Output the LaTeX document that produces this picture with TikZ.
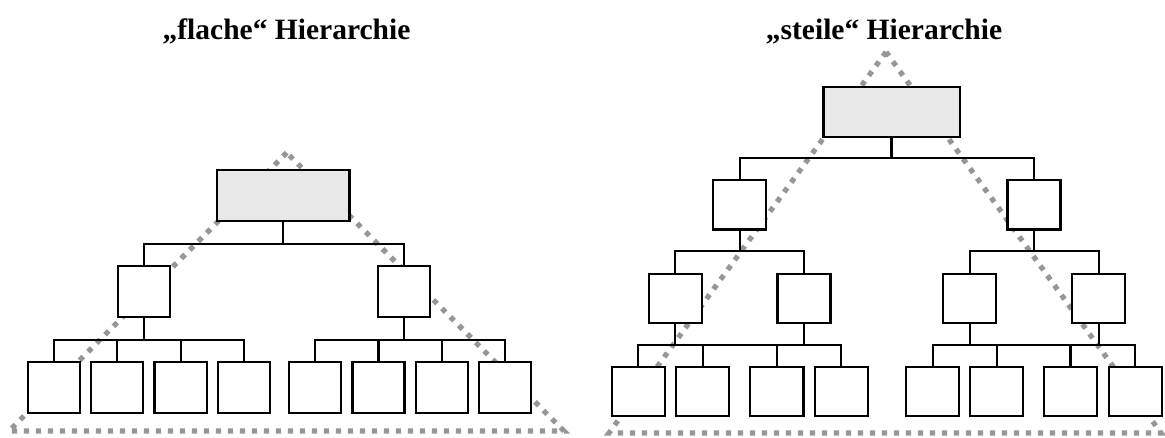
\documentclass[tikz,border=0pt]{standalone}
\usepackage{fontspec}
\setmainfont{Liberation Serif}
\usepackage{xcolor}
\usepackage{tikz}
\usetikzlibrary{
    positioning,
    calc
}

\definecolor{headfill}{RGB}{232,232,232}
\definecolor{hullgray}{RGB}{150,150,150}

\begin{document}
\begin{tikzpicture}[
        x=1pt, y=-1pt,
        subbox/.style={
            rectangle,
            draw,
            fill=white,
            line width=2.2pt,
            inner sep=0pt,
            minimum width=52.1pt,
            minimum height=51.1pt
        },
        topbox/.style={
            subbox,
            fill=headfill,
            minimum width=132.5pt,
            minimum height=51.1pt
        },
        cell/.style={
            subbox,
            minimum width=53.1pt,
            minimum height=49.4pt
        },
        link/.style={
            line width=2.2pt
        },
        hull/.style={
            draw=hullgray,
            line width=5.2pt,
            dash pattern=on 5.2pt off 6.8pt
        },
        title/.style={
            anchor=base,
            font=\bfseries\fontsize{29.5}{31}\selectfont
        }
    ]

    \useasboundingbox (0,0) rectangle (1165,437);

    % dotted outlines behind the trees
    \draw[hull] (286.7,152.7) -- (9,431) -- (564,431) -- cycle;
    \draw[hull] (886,52) -- (609,433) -- (1161,433) -- cycle;

    % flat hierarchy
    \node[title] (ftitle) at (286.5,39) {„flache“ Hierarchie};

    \node[topbox] (ftop) at (283.3,195.7) {};

    \node[subbox] (fl) at (143.8,291.5) {};
    \node[subbox] (fr) at (404.3,291.5) {};

    \node[subbox] (f1) at (54,387.6) {};
    \node[subbox, right=9pt of f1] (f2) {};
    \node[subbox, right=9pt of f2] (f3) {};
    \node[subbox, right=9pt of f3] (f4) {};
    \node[subbox, right=17pt of f4] (f5) {};
    \node[subbox, right=9pt of f5] (f6) {};
    \node[subbox, right=9pt of f6] (f7) {};
    \node[subbox, right=9pt of f7] (f8) {};

    \draw[link] (ftop.south) -- ++(0,21.5) coordinate (fbus);
    \draw[link] (fl.north) |- (fbus) -| (fr.north);

    \draw[link] (fl.south) -- ++(0,21.8) coordinate (flbus);
    \draw[link] (f1.north) |- (flbus) -| (f4.north);
    \draw[link] (f2.north) -- (f2 |- flbus);
    \draw[link] (f3.north) -- (f3 |- flbus);

    \draw[link] (fr.south) -- ++(0,21.8) coordinate (frbus);
    \draw[link] (f5.north) |- (frbus) -| (f8.north);
    \draw[link] (f6.north) -- (f6 |- frbus);
    \draw[link] (f7.north) -- (f7 |- frbus);

    % steep hierarchy
    \node[title] (stitle) at (884,39) {„steile“ Hierarchie};

    \node[topbox, minimum width=136.2pt, minimum height=49.8pt] (stop) at (891.5,111.7) {};

    \node[cell] (sl) at (739.8,204.8) {};
    \node[cell] (sr) at (1034,204.8) {};

    \node[cell] (sll) at (675.3,298.3) {};
    \node[cell] (slr) at (804,298.3) {};
    \node[cell] (srl) at (969.7,298.3) {};
    \node[cell] (srr) at (1098.7,298.3) {};

    \node[cell] (s1) at (638.3,391.5) {};
    \node[cell, right=9pt of s1] (s2) {};
    \node[cell, right=19pt of s2] (s3) {};
    \node[cell, right=9pt of s3] (s4) {};
    \node[cell] (s5) at (932.8,391.5) {};
    \node[cell, right=8.5pt of s5] (s6) {};
    \node[cell, right=18.5pt of s6] (s7) {};
    \node[cell, right=9.5pt of s7] (s8) {};

    \draw[link] (stop.south) -- ++(0,20.3) coordinate (sbus);
    \draw[link] (sl.north) |- (sbus) -| (sr.north);

    \draw[link] (sl.south) -- ++(0,20.7) coordinate (slbus);
    \draw[link] (sll.north) |- (slbus) -| (slr.north);
    \draw[link] (sr.south) -- ++(0,20.7) coordinate (srbus);
    \draw[link] (srl.north) |- (srbus) -| (srr.north);

    \draw[link] (sll.south) -- ++(0,21) coordinate (sllbus);
    \draw[link] (s1.north) |- (sllbus) -| (s4.north);
    \draw[link] (slr.south) -- (slr |- sllbus);
    \draw[link] (s2.north) -- (s2 |- sllbus);
    \draw[link] (s3.north) -- (s3 |- sllbus);

    \draw[link] (srl.south) -- ++(0,21) coordinate (srlbus);
    \draw[link] (s5.north) |- (srlbus) -| (s8.north);
    \draw[link] (srr.south) -- (srr |- srlbus);
    \draw[link] (s6.north) -- (s6 |- srlbus);
    \draw[link] (s7.north) -- (s7 |- srlbus);

\end{tikzpicture}
\end{document}
